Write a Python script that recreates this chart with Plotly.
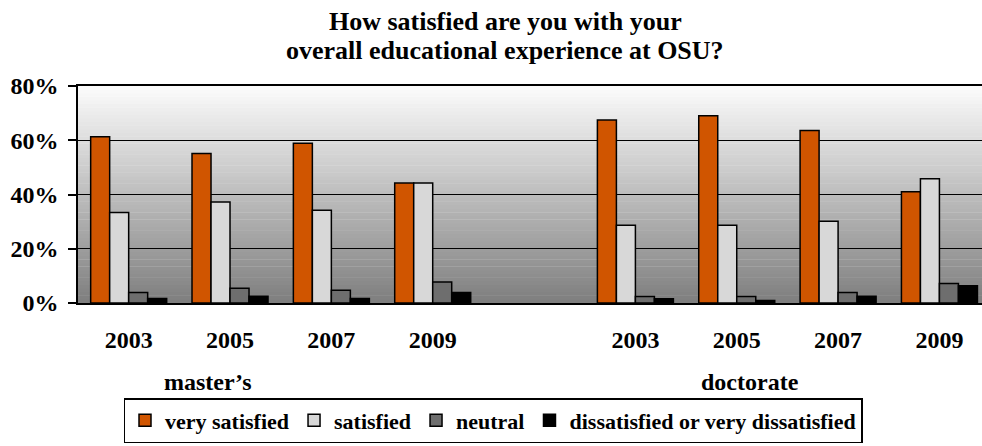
import plotly.graph_objects as go

# ---- data ----
title_lines = ["How satisfied are you with your", "overall educational experience at OSU?"]
degrees = ["master\u2019s", "doctorate"]
years = ["2003", "2005", "2007", "2009"]
series_names = ["very satisfied", "satisfied", "neutral", "dissatisfied or very dissatisfied"]

very_satisfied_masters = [61.3, 55.1, 58.9, 44.2]
very_satisfied_doctorate = [67.5, 69.0, 63.6, 41.0]
satisfied_masters = [33.4, 37.2, 34.2, 44.2]
satisfied_doctorate = [28.7, 28.7, 30.1, 45.8]
neutral_masters = [3.9, 5.4, 4.7, 7.7]
neutral_doctorate = [2.4, 2.4, 3.9, 7.2]
dissatisfied_masters = [1.7, 2.5, 1.7, 3.9]
dissatisfied_doctorate = [1.6, 0.9, 2.5, 6.4]

colors = ["#d05500", "#d8d8d8", "#6e6e6e", "#000000"]

# categories: masters years, blank gap, doctorate years
gap_key = " "
cat_keys = [f"{degrees[0]} {y}" for y in years] + [gap_key] + [f"{degrees[1]} {y}" for y in years]
tick_text = years + [""] + years

def full(m, d):
    return list(m) + [None] + list(d)

values = [
    full(very_satisfied_masters, very_satisfied_doctorate),
    full(satisfied_masters, satisfied_doctorate),
    full(neutral_masters, neutral_doctorate),
    full(dissatisfied_masters, dissatisfied_doctorate),
]

FONT = "Liberation Serif, Times New Roman, serif"

fig = go.Figure()
for name, vals, col in zip(series_names, values, colors):
    fig.add_trace(go.Bar(
        x=cat_keys, y=vals, name=name,
        marker=dict(color=col, line=dict(color="black", width=1.5)),
    ))

# vertical gradient background of plot area
n_strips = 60
top_c, bot_c = 252, 126
shapes = []
for i in range(n_strips):
    y0 = i / n_strips
    y1 = (i + 1) / n_strips
    t = (i + 0.5) / n_strips
    c = int(round(bot_c + (top_c - bot_c) * t))
    shapes.append(dict(type="rect", xref="x domain", yref="y domain",
                       x0=0, x1=1, y0=y0, y1=y1 + 0.002,
                       fillcolor=f"rgb({c},{c},{c})", line=dict(width=0),
                       layer="below"))

W, H = 982, 446
L, R, T, B = 78, 0, 86, 143
plot_w = W - L - R
plot_h = H - T - B

def px_x(px):
    return (px - L) / plot_w

def px_y(py):
    return (H - B - py) / plot_h

bold = dict(family=FONT, weight="bold", color="black")

annotations = [
    dict(text=title_lines[0], xref="paper", yref="paper",
         x=px_x(505), y=px_y(21), xanchor="center", yanchor="middle",
         showarrow=False, font=dict(size=26, **bold)),
    dict(text=title_lines[1], xref="paper", yref="paper",
         x=px_x(505), y=px_y(51), xanchor="center", yanchor="middle",
         showarrow=False, font=dict(size=26, **bold)),
    dict(text=degrees[0], xref="paper", yref="paper",
         x=px_x(208), y=px_y(382), xanchor="center", yanchor="middle",
         showarrow=False, font=dict(size=24, **bold)),
    dict(text=degrees[1], xref="paper", yref="paper",
         x=px_x(750), y=px_y(382), xanchor="center", yanchor="middle",
         showarrow=False, font=dict(size=24, **bold)),
]

fig.update_layout(
    width=W, height=H,
    margin=dict(l=L, r=R, t=T, b=B, autoexpand=False),
    paper_bgcolor="white",
    plot_bgcolor="rgba(0,0,0,0)",
    font=dict(family=FONT, color="black", size=22),
    barmode="group",
    bargap=0.25,
    bargroupgap=0,
    shapes=shapes,
    xaxis=dict(
        type="category",
        categoryorder="array", categoryarray=cat_keys,
        tickvals=cat_keys, ticktext=tick_text,
        range=[-0.5, 8.42],
        showline=True, linecolor="black", linewidth=1.5, mirror=True,
        ticks="", showgrid=False,
        tickfont=dict(size=24, **bold),
        ticklabelstandoff=14,
    ),
    yaxis=dict(
        range=[0, 80], dtick=20, ticksuffix="%",
        showline=True, linecolor="black", linewidth=1.5,
        ticks="outside", ticklen=8, tickcolor="black", tickwidth=1.5,
        showgrid=True, gridcolor="black", gridwidth=1,
        zeroline=False,
        tickfont=dict(size=24, **bold),
        ticklabelstandoff=5,
    ),
    legend=dict(
        orientation="h",
        x=px_x(493), xanchor="center",
        y=px_y(443), yanchor="bottom",
        bgcolor="white", bordercolor="black", borderwidth=1.5,
        font=dict(size=22, **bold),
        itemwidth=30, tracegroupgap=0,
    ),
    annotations=annotations,
)

fig.write_html(
    "out.html",
    config={"displayModeBar": False},
    post_script="document.body.style.margin='0';document.body.style.overflow='hidden';",
)
